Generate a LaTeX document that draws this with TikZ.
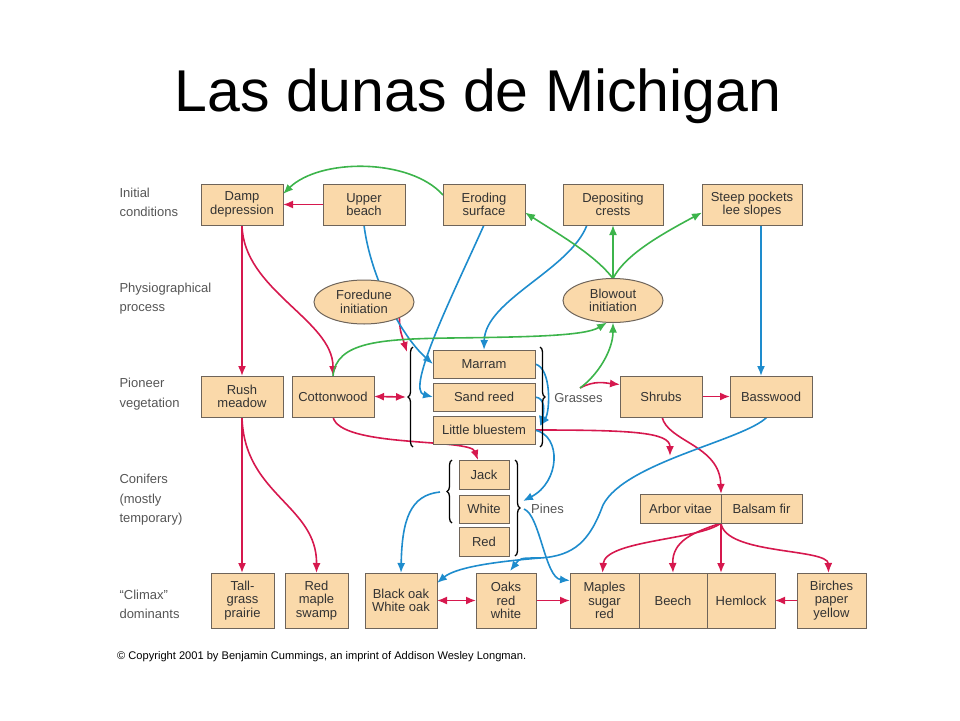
\documentclass[tikz,border=0pt]{standalone}
\usepackage{fontspec}
\setmainfont{Liberation Sans}
\usetikzlibrary{arrows.meta,shapes.geometric,decorations.pathreplacing}
\definecolor{boxfill}{RGB}{250,217,170}
\definecolor{boxline}{RGB}{110,100,90}
\definecolor{arrred}{RGB}{214,24,78}
\definecolor{arrgreen}{RGB}{60,180,75}
\definecolor{arrblue}{RGB}{30,140,205}
\definecolor{lblgray}{RGB}{85,85,85}
\pgfdeclarelayer{bg}
\pgfsetlayers{bg,main}

\begin{document}
\begin{tikzpicture}[x=1pt,y=-1pt,
		box/.style={draw=boxline,fill=boxfill,line width=1pt,inner sep=0pt,outer sep=0pt,
			minimum width=82pt,minimum height=41pt,align=center,text=black!80,
			font=\fontsize{13}{13.5}\selectfont},
		oval/.style={box,ellipse,minimum width=100pt,minimum height=44pt},
		grass/.style={box,minimum width=102pt,minimum height=28pt},
		pine/.style={box,minimum width=50pt,minimum height=29pt},
		climax/.style={box,minimum height=55pt},
		rowlabel/.style={anchor=west,align=left,text=lblgray,font=\fontsize{13}{19.5}\selectfont},
		tag/.style={text=lblgray,inner sep=0pt,font=\fontsize{13}{13}\selectfont},
		link/.style={line width=1.6pt,-{Latex[length=10pt,width=8pt]}},
		dbl/.style={{Latex[length=10pt,width=8pt]}-{Latex[length=10pt,width=8pt]}},
		redlink/.style={link,draw=arrred},
		greenlink/.style={link,draw=arrgreen},
		bluelink/.style={link,draw=arrblue},
		brc/.style={decorate,decoration={brace,amplitude=5pt},line width=1.3pt}]
	\useasboundingbox (0,0) rectangle (960,720);
	\node (title) at (478,96) {\fontsize{59}{59}\selectfont Las dunas de Michigan};

	\node[rowlabel] (init) at (116,202.5) {Initial\\conditions};
	\node[rowlabel] (physio) at (116,298.5) {Physiographical\\process};
	\node[rowlabel] (pioneer) at (116,394) {Pioneer\\vegetation};
	\node[rowlabel] (conif) at (116,500) {Conifers\\(mostly\\temporary)};
	\node[rowlabel] (climaxlbl) at (116,604.5) {“Climax”\\dominants};

	\node[box] (damp) at (242,204.5) {Damp\\depression};
	\node[box] (upper) at (364,204.5) {Upper\\beach};
	\node[box] (eroding) at (484,204.5) {Eroding\\surface};
	\node[box,minimum width=100pt] (depositing) at (613,204.5) {Depositing\\crests};
	\node[box,minimum width=100pt] (steep) at (752,204.5) {Steep pockets\\lee slopes};

	\node[oval] (foredune) at (364,302) {Foredune\\initiation};
	\node[oval] (blowout) at (613,300.5) {Blowout\\initiation};

	\node[box] (rush) at (242,396.5) {Rush\\meadow};
	\node[box] (cotton) at (333,396.5) {Cottonwood};
	\node[grass] (marram) at (484,364) {Marram};
	\node[grass] (sandreed) at (484,397) {Sand reed};
	\node[grass] (bluestem) at (484,430) {Little bluestem};
	\node[tag] (grasses) at (578.5,398) {Grasses};
	\node[box] (shrubs) at (661,396.5) {Shrubs};
	\node[box] (basswood) at (771,396.5) {Basswood};

	\node[pine] (jack) at (484,474.5) {Jack};
	\node[pine,minimum height=28pt] (white) at (484,509) {White};
	\node[pine] (redpine) at (484,541.5) {Red};
	\node[tag] (pines) at (547.5,509) {Pines};
	\node[box,minimum width=81pt,minimum height=29pt] (arbor) at (680.5,508.5) {Arbor vitae};
	\node[box,minimum width=81pt,minimum height=29pt] (balsam) at (761.5,508.5) {Balsam fir};

	\node[climax,minimum width=63pt] (tallgrass) at (242.5,600.5) {Tall-\\grass\\prairie};
	\node[climax,minimum width=63pt] (redmaple) at (316.5,600.5) {Red\\maple\\swamp};
	\node[climax,minimum width=72pt] (blackoak) at (401,600.5) {Black oak\\White oak};
	\node[climax,minimum width=60pt] (oaks) at (506,600.5) {Oaks\\red\\white};
	\node[climax,minimum width=69pt] (maples) at (604.5,600.5) {Maples\\sugar\\red};
	\node[climax,minimum width=68pt] (beech) at (673,600.5) {Beech};
	\node[climax,minimum width=68pt] (hemlock) at (741,600.5) {Hemlock};
	\node[climax,minimum width=69pt] (birches) at (831.5,600.5) {Birches\\paper\\yellow};

	\draw[brc] ([xshift=-20pt,yshift=-3pt]bluestem.south west) -- ([xshift=-20pt,yshift=3pt]marram.north west);
	\draw[brc] ([xshift=5pt,yshift=3pt]marram.north east) -- ([xshift=5pt,yshift=-3pt]bluestem.south east);
	\draw[brc] ([xshift=-7pt]white.south west) -- ([xshift=-7pt]jack.north west);
	\draw[brc] ([xshift=6pt]jack.north east) -- ([xshift=6pt]redpine.south east);

	\coordinate (gl) at ([xshift=-27pt]sandreed.west);
	\coordinate (gs) at (580,388);
	\coordinate (bs) at (670,456);
	\coordinate (bt) at ([xshift=5pt,yshift=-10pt]bluestem.north east);
	\coordinate (pr) at (523,501);
	\coordinate (pinetip) at (524,509);
	\coordinate (pl) at (440,492);

	\node[font=\fontsize{11.1}{12}\selectfont,anchor=west,inner sep=0pt] (copy) at (117,657)
		{© Copyright 2001 by Benjamin Cummings, an imprint of Addison Wesley Longman.};

	\begin{pgfonlayer}{bg}
		\draw[redlink] (upper) -- (damp);
		\draw[redlink] (damp) -- (rush);
		\draw[redlink] (damp.south) .. controls (243,290) and (333,320) .. (cotton.north);
		\draw[redlink] (rush.south) -- (rush.south |- tallgrass.north);
		\draw[redlink] (rush.south) .. controls (244,495) and (317,505) .. (redmaple.north);
		\draw[redlink,dbl] (cotton.east) -- (gl);
		\draw[redlink] (cotton.south) .. controls (340,448) and (470,438) .. ([xshift=-6pt]jack.north);
		\draw[redlink] (foredune.south east) .. controls (400,330) .. ([xshift=-26pt,yshift=-2pt]marram.north west);
		\draw[redlink] (gs) .. controls (595,380) and (605,383) .. ([yshift=12pt]shrubs.west);
		\draw[redlink] (shrubs) -- (basswood);
		\draw[redlink] ([xshift=1pt]shrubs.south) .. controls (668,442) and (720,445) .. (balsam.north west);
		\draw[redlink] (bluestem.east) .. controls (630,430) and (670,432) .. (bs);
		\draw[redlink,dbl] (blackoak) -- (oaks);
		\draw[redlink] (oaks) -- (maples);
		\draw[redlink] (birches) -- (hemlock);
		\draw[redlink] (arbor.south east) .. controls (700,540) and (605,540) .. ([xshift=-2pt]maples.north);
		\draw[redlink] (arbor.south east) .. controls (695,532) and (672,540) .. (beech.north);
		\draw[redlink] (arbor.south east) -- (arbor.south east |- hemlock.north);
		\draw[redlink] (arbor.south east) .. controls (725,555) and (828,548) .. ([xshift=-3pt]birches.north);

		\draw[bluelink] (upper.south) .. controls (370,275) and (400,335) .. (marram.west);
		\draw[bluelink] (eroding.south) .. controls (455,290) and (405,390) .. (sandreed.west);
		\draw[bluelink] ([xshift=-26pt]depositing.south) .. controls (570,270) and (485,300) .. (marram.north);
		\draw[bluelink] ([xshift=9pt]steep.south) -- ([xshift=-10pt]basswood.north);
		\draw[bluelink] ([xshift=-4pt]basswood.south) .. controls (745,440) and (625,462) .. (603,505)
			.. controls (590,540) and (575,556) .. (540,558) coordinate (bj)
			.. controls (490,562) and (455,568) .. ([yshift=-10pt]blackoak.north east);
		\draw[bluelink] (bj) .. controls (520,558) .. ([xshift=4pt,yshift=2pt]oaks.north);
		\draw[bluelink] (marram.east) .. controls (552,368) and (550,412) .. (bt);
		\draw[bluelink] (sandreed.east) .. controls (546,398) and (544,412) .. (bt);
		\draw[bluelink] (bluestem.east) .. controls (562,436) and (560,482) .. (pr);
		\draw[bluelink] (pinetip) .. controls (540,515) and (545,578) .. ([yshift=20pt]maples.west);
		\draw[bluelink] (pl) .. controls (410,495) and (402,520) .. (blackoak.north);

		\draw[greenlink] ([yshift=-11pt]eroding.north west) .. controls (410,158) and (320,158) .. ([yshift=-10pt]damp.north east);
		\draw[greenlink] (blowout.north) .. controls (595,255) and (560,235) .. ([yshift=-8pt]eroding.east);
		\draw[greenlink] (blowout) -- (depositing);
		\draw[greenlink] (blowout.north) .. controls (625,255) and (660,235) .. ([yshift=-8pt]steep.west);
		\draw[greenlink] (cotton.north) .. controls (336,342) and (380,339) .. (450,338)
			.. controls (530,337) and (585,336) .. ([xshift=-6pt]blowout.south);
		\draw[greenlink] (gs) .. controls (598,375) and (613,350) .. (blowout.south);
	\end{pgfonlayer}
\end{tikzpicture}
\end{document}
